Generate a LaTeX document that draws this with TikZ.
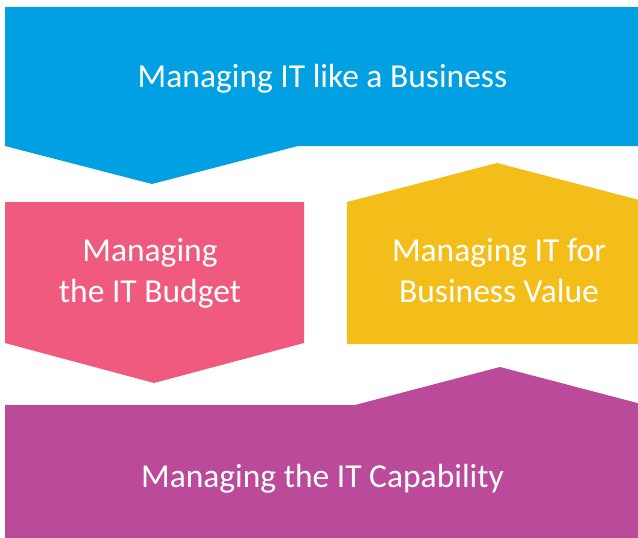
\documentclass[tikz,border=0pt]{standalone}
\usepackage{fontspec}
\setmainfont{Carlito}
\definecolor{itblue}{RGB}{0,160,226}
\definecolor{itpink}{RGB}{240,90,126}
\definecolor{ityellow}{RGB}{244,190,26}
\definecolor{itpurple}{RGB}{188,74,155}

\begin{document}
\begin{tikzpicture}[x=1pt,y=-1pt]
      \tikzset{
        every node/.style={text=white,align=center,inner sep=0pt,
          font=\fontsize{33.5}{41}\selectfont}
      }

      \useasboundingbox (0,0) rectangle (638,538);
      \clip (0,0) rectangle (638,538);

      % the four blocks
      \fill[itblue] (5,7) -- (645,7) -- (645,146) -- (298,146)
            -- (152,184) -- (5,146) -- cycle;
      \fill[itpink] (5,202) -- (304,202) -- (304,343)
            -- (154,383) -- (5,343) -- cycle;
      \fill[ityellow] (347,344) -- (347,202) -- (497,163)
            -- (647,202) -- (647,344) -- cycle;
      \fill[itpurple] (5,545) -- (5,405) -- (355,405) -- (500,367)
            -- (645,405) -- (645,545) -- cycle;

      \node[anchor=base] (business) at (322.5,87) {Managing IT like a Business};
      \node (budget) at (150,273) {Managing\\the IT Budget};
      \node (value) at (499,271) {Managing IT for\\Business Value};
      \node[anchor=base] (capability) at (322.5,487) {Managing the IT Capability};
    \end{tikzpicture}
\end{document}
